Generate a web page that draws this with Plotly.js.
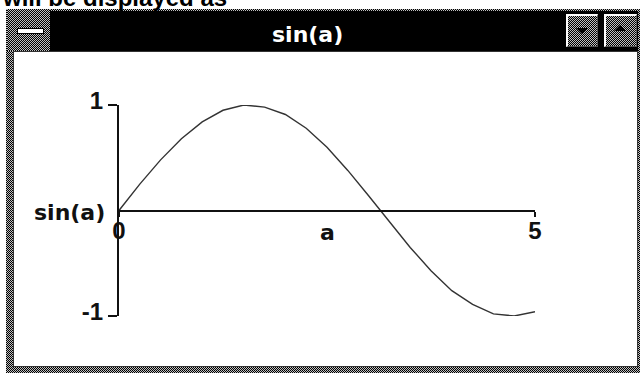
<!DOCTYPE html>
<html>
<head>
<meta charset="utf-8">
<script src="https://cdn.plot.ly/plotly-3.0.1.min.js"></script>
<style>
  body { margin: 0; background: #fff; }
  #page { position: relative; width: 640px; height: 373px; overflow: hidden; background: #fff; }
  .dith { position: absolute; background: repeating-conic-gradient(#000 0% 25%, #c0c0c0 0% 50%) 0 0 / 2px 2px; }
  .blk { position: absolute; background: #000; }
  #client { position: absolute; left: 13px; top: 51px; width: 623px; height: 314px; background: #fff; border: 1px solid #333; }
  .btn { border-left: 2px solid #fff; border-top: 2px solid #fff; border-right: 1px solid #555; border-bottom: 1px solid #555; box-sizing: border-box; }
  .arr { position: absolute; width: 0; height: 0; border-left: 6px solid transparent; border-right: 6px solid transparent; }
  #myPlot { position: absolute; left: 0; top: 0; width: 640px; height: 373px; }
</style>
</head>
<body>
<div id="page">
  <div class="dith" style="left:6px;top:9px;width:634px;height:364px;"></div>
  <div class="blk" style="left:7px;top:11px;width:631px;height:40px;"></div>
  <div class="dith" style="left:7px;top:9px;width:43px;height:42px;"></div>
  <div style="position:absolute;left:17px;top:28px;width:25px;height:4px;background:#fff;border:1px solid #000;"></div>
  <div class="dith btn" style="left:566px;top:14px;width:32px;height:33px;"></div>
  <div class="arr" style="left:576px;top:28px;border-top:6px solid #000;"></div>
  <div class="dith btn" style="left:604px;top:14px;width:33px;height:33px;"></div>
  <div class="arr" style="left:614px;top:25px;border-bottom:6px solid #000;"></div>
  <div id="client"></div>
  <div id="myPlot"></div>
</div>
<script>
// values
var aValues = [0, 0.25, 0.5, 0.75, 1, 1.25, 1.5, 1.75, 2, 2.25, 2.5, 2.75, 3, 3.25, 3.5, 3.75, 4, 4.25, 4.5, 4.75, 5];
var sinValues = [0, 0.25, 0.48, 0.68, 0.84, 0.95, 1.0, 0.98, 0.91, 0.78, 0.6, 0.38, 0.14, -0.11, -0.35, -0.57, -0.76, -0.89, -0.98, -1.0, -0.96];
var xTicks = [0, 5];
var xTickText = ["0", "5"];
var yTicks = [-1, 1];
var yTickText = ["-1", "1"];

// pixel -> paper helpers (plot area is 119..535 by 105..316)
function px(x) { return (x - 119) / 416; }
function py(y) { return (316 - y) / 211; }

var digitFont = { family: "Liberation Sans, Arial, sans-serif", size: 24, color: "#111", weight: "bold" };
var wordFont = { family: "DejaVu Sans, sans-serif", size: 22, color: "#111", weight: "bold" };

var data = [{
    x: aValues,
    y: sinValues,
    mode: "lines",
    line: { color: "#333", width: 1.4 },
    cliponaxis: false,
    hoverinfo: "skip"
}];

var layout = {
    width: 640,
    height: 373,
    margin: { l: 119, r: 105, t: 105, b: 57 },
    paper_bgcolor: "rgba(0,0,0,0)",
    plot_bgcolor: "rgba(0,0,0,0)",
    showlegend: false,
    xaxis: {
        range: [0, 5],
        anchor: "free",
        position: 0.5,
        showline: true, linewidth: 2, linecolor: "#111",
        ticks: "outside", ticklen: 5, tickwidth: 2, tickcolor: "#111",
        tickvals: xTicks, ticktext: xTickText,
        ticklabelstandoff: -6,
        showgrid: false, zeroline: false,
        tickfont: digitFont
    },
    yaxis: {
        range: [-1, 1],
        showline: true, linewidth: 2, linecolor: "#111",
        ticks: "outside", ticklen: 9, tickwidth: 2, tickcolor: "#111",
        tickvals: yTicks, ticktext: yTickText,
        ticklabelshift: -4,
        showgrid: false, zeroline: false,
        tickfont: digitFont
    },
    annotations: [
        { text: "a", xref: "x", yref: "y", x: 2.5, y: 0, yshift: -22, showarrow: false, font: wordFont },
        { text: "sin(a)", xref: "x", yref: "y", x: 0, y: 0, xanchor: "right", xshift: -12, yshift: -2, showarrow: false, font: wordFont },
        { text: "sin(a)", xref: "paper", yref: "paper", x: px(307), y: py(35), xanchor: "center", yanchor: "middle", showarrow: false,
          font: { family: "DejaVu Sans, sans-serif", size: 22, color: "#fff", weight: "bold" } },
        { text: "will be displayed as", xref: "paper", yref: "paper", x: px(0), y: py(-3), xanchor: "left", yanchor: "middle", showarrow: false,
          font: { family: "Liberation Sans, Arial, sans-serif", size: 24, color: "#000", weight: "bold" } }
    ]
};

Plotly.newPlot("myPlot", data, layout, { staticPlot: true, displayModeBar: false });
</script>
</body>
</html>
